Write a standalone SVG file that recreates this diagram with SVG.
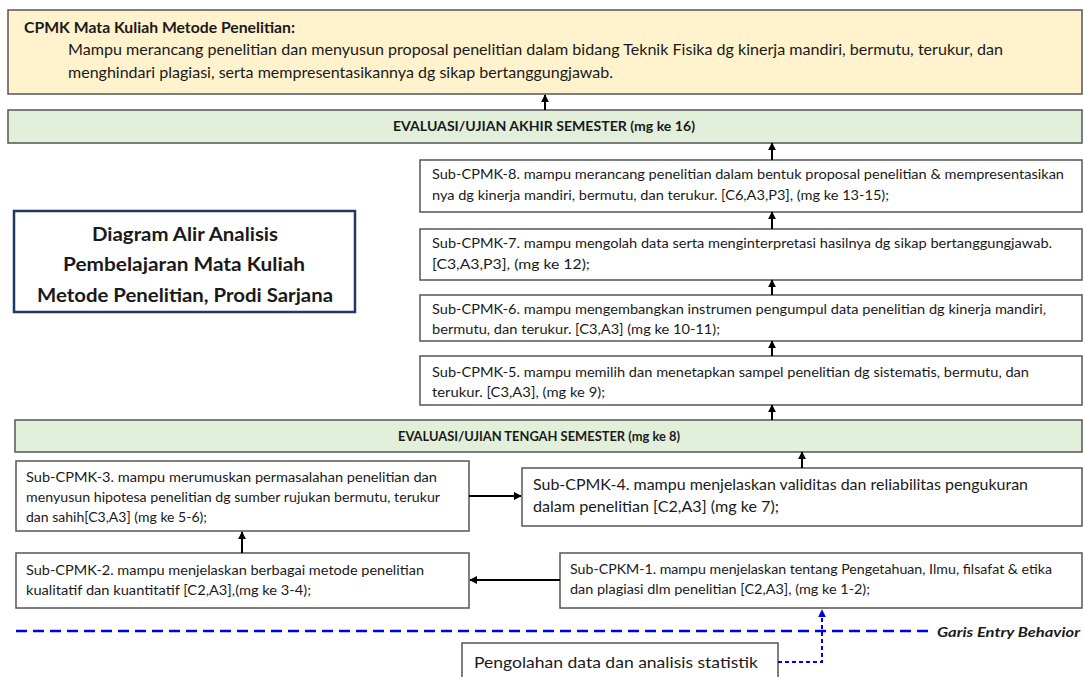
<svg xmlns="http://www.w3.org/2000/svg" width="1084" height="677" viewBox="0 0 1084 677">
<defs>
<marker id="ah" viewBox="0 0 10 10" refX="9" refY="5" markerWidth="4" markerHeight="4" orient="auto" markerUnits="strokeWidth">
<path d="M0,0 L10,5 L0,10 z" fill="#000"/>
</marker>
<marker id="ahb" viewBox="0 0 10 10" refX="9" refY="5" markerWidth="4" markerHeight="4" orient="auto" markerUnits="strokeWidth">
<path d="M0,0 L10,5 L0,10 z" fill="#0000e6"/>
</marker>
<style>
text{font-family:Lato,"Liberation Sans",sans-serif;fill:#1a1a1a}
.box{fill:#fff;stroke:#555;stroke-width:1.5}
.top{fill:#fff2cc;stroke:#555;stroke-width:1.5}
.eval{fill:#e2efda;stroke:#555;stroke-width:1.5}
.s{font-size:13.5px}
.m{font-size:15px}
.l{font-size:16px}
.b{font-weight:bold}
.con{stroke:#000;stroke-width:2;fill:none;marker-end:url(#ah)}
</style>
</defs>
<rect width="1084" height="677" fill="#fff"/>
<g id="cpmk">
<rect class="top" x="8" y="10" width="1074" height="84"/>
<text class="m b" x="24" y="33" textLength="271" lengthAdjust="spacingAndGlyphs">CPMK Mata Kuliah Metode Penelitian:</text>
<text class="m" x="68" y="55" textLength="935" lengthAdjust="spacingAndGlyphs">Mampu merancang penelitian dan menyusun proposal penelitian dalam bidang Teknik Fisika dg kinerja mandiri, bermutu, terukur, dan</text>
<text class="m" x="68" y="78" textLength="545" lengthAdjust="spacingAndGlyphs">menghindari plagiasi, serta mempresentasikannya dg sikap bertanggungjawab.</text>
</g>
<g id="uas">
<rect class="eval" x="8" y="110" width="1074" height="33"/>
<text class="s b" x="393" y="131" textLength="302" lengthAdjust="spacingAndGlyphs">EVALUASI/UJIAN AKHIR SEMESTER (mg ke 16)</text>
</g>
<g id="title">
<rect x="14" y="211" width="341" height="101" fill="#fff" stroke="#1f3864" stroke-width="2.5"/>
<text x="185" y="241" font-size="18" font-weight="bold" text-anchor="middle" textLength="186" lengthAdjust="spacingAndGlyphs">Diagram Alir Analisis</text>
<text x="184" y="271" font-size="18" font-weight="bold" text-anchor="middle" textLength="242" lengthAdjust="spacingAndGlyphs">Pembelajaran Mata Kuliah</text>
<text x="185" y="302" font-size="18" font-weight="bold" text-anchor="middle" textLength="296" lengthAdjust="spacingAndGlyphs">Metode Penelitian, Prodi Sarjana</text>
</g>
<g id="sub8">
<rect class="box" x="420" y="160" width="662" height="52"/>
<text class="s" x="432" y="179" textLength="632" lengthAdjust="spacingAndGlyphs">Sub-CPMK-8. mampu merancang penelitian dalam bentuk proposal penelitian &amp; mempresentasikan</text>
<text class="s" x="432" y="200" textLength="457" lengthAdjust="spacingAndGlyphs">nya dg kinerja mandiri, bermutu, dan terukur. [C6,A3,P3], (mg ke 13-15);</text>
</g>
<g id="sub7">
<rect class="box" x="420" y="229" width="662" height="51"/>
<text class="s" x="432" y="248" textLength="620" lengthAdjust="spacingAndGlyphs">Sub-CPMK-7. mampu mengolah data serta menginterpretasi hasilnya dg sikap bertanggungjawab.</text>
<text class="s" x="432" y="269" textLength="158" lengthAdjust="spacingAndGlyphs">[C3,A3,P3], (mg ke 12);</text>
</g>
<g id="sub6">
<rect class="box" x="420" y="295" width="662" height="46"/>
<text class="s" x="432" y="314" textLength="614" lengthAdjust="spacingAndGlyphs">Sub-CPMK-6. mampu mengembangkan instrumen pengumpul data penelitian dg kinerja mandiri,</text>
<text class="s" x="432" y="334" textLength="288" lengthAdjust="spacingAndGlyphs">bermutu, dan terukur. [C3,A3] (mg ke 10-11);</text>
</g>
<g id="sub5">
<rect class="box" x="420" y="356" width="662" height="49"/>
<text class="s" x="432" y="377" textLength="597" lengthAdjust="spacingAndGlyphs">Sub-CPMK-5. mampu memilih dan menetapkan sampel penelitian dg sistematis, bermutu, dan</text>
<text class="s" x="432" y="397" textLength="173" lengthAdjust="spacingAndGlyphs">terukur. [C3,A3], (mg ke 9);</text>
</g>
<g id="uts">
<rect class="eval" x="15" y="420" width="1067" height="32"/>
<text class="s b" x="398" y="441" textLength="282" lengthAdjust="spacingAndGlyphs">EVALUASI/UJIAN TENGAH SEMESTER (mg ke 8)</text>
</g>
<g id="sub3">
<rect class="box" x="16" y="461" width="453" height="70"/>
<text class="s" x="26" y="482" textLength="411" lengthAdjust="spacingAndGlyphs">Sub-CPMK-3. mampu merumuskan permasalahan penelitian dan</text>
<text class="s" x="26" y="502" textLength="414" lengthAdjust="spacingAndGlyphs">menyusun hipotesa penelitian dg sumber rujukan bermutu, terukur</text>
<text class="s" x="26" y="522" textLength="181" lengthAdjust="spacingAndGlyphs">dan sahih[C3,A3] (mg ke 5-6);</text>
</g>
<g id="sub4">
<rect class="box" x="522" y="468" width="560" height="58"/>
<text class="l" x="533" y="490" textLength="495" lengthAdjust="spacingAndGlyphs">Sub-CPMK-4. mampu menjelaskan validitas dan reliabilitas pengukuran</text>
<text class="l" x="533" y="512" textLength="246" lengthAdjust="spacingAndGlyphs">dalam penelitian [C2,A3] (mg ke 7);</text>
</g>
<g id="sub2">
<rect class="box" x="16" y="553" width="453" height="55"/>
<text class="s" x="26" y="575" textLength="398" lengthAdjust="spacingAndGlyphs">Sub-CPMK-2. mampu menjelaskan berbagai metode penelitian</text>
<text class="s" x="26" y="595" textLength="285" lengthAdjust="spacingAndGlyphs">kualitatif dan kuantitatif [C2,A3],(mg ke 3-4);</text>
</g>
<g id="sub1">
<rect class="box" x="560" y="553" width="522" height="55"/>
<text class="s" x="570" y="574" textLength="482" lengthAdjust="spacingAndGlyphs">Sub-CPKM-1. mampu menjelaskan tentang Pengetahuan, Ilmu, filsafat &amp; etika</text>
<text class="s" x="570" y="594" textLength="300" lengthAdjust="spacingAndGlyphs">dan plagiasi dlm penelitian [C2,A3], (mg ke 1-2);</text>
</g>
<g id="entry">
<line x1="16" y1="631" x2="930" y2="631" stroke="#0000e6" stroke-width="2.5" stroke-dasharray="11 6"/>
<text x="937" y="637" font-size="13.5" font-weight="bold" font-style="italic" textLength="143" lengthAdjust="spacingAndGlyphs">Garis Entry Behavior</text>
</g>
<g id="stat">
<rect class="box" x="462" y="643" width="316" height="40"/>
<text class="l" x="474" y="668" textLength="284" lengthAdjust="spacingAndGlyphs">Pengolahan data dan analisis statistik</text>
</g>
<g id="connectors">
<line class="con" x1="545" y1="110" x2="545" y2="95"/>
<line class="con" x1="772" y1="160" x2="772" y2="143"/>
<line class="con" x1="772" y1="229" x2="772" y2="212"/>
<line class="con" x1="772" y1="295" x2="772" y2="280"/>
<line class="con" x1="772" y1="356" x2="772" y2="341"/>
<line class="con" x1="772" y1="420" x2="772" y2="405"/>
<line class="con" x1="802" y1="468" x2="802" y2="452"/>
<line class="con" x1="469" y1="496" x2="521" y2="496"/>
<line class="con" x1="242" y1="553" x2="242" y2="532"/>
<line class="con" x1="560" y1="580" x2="470" y2="580"/>
<path d="M778,662 H822 V610" fill="none" stroke="#0000e6" stroke-width="2" stroke-dasharray="4 3" marker-end="url(#ahb)"/>
</g>
</svg>
